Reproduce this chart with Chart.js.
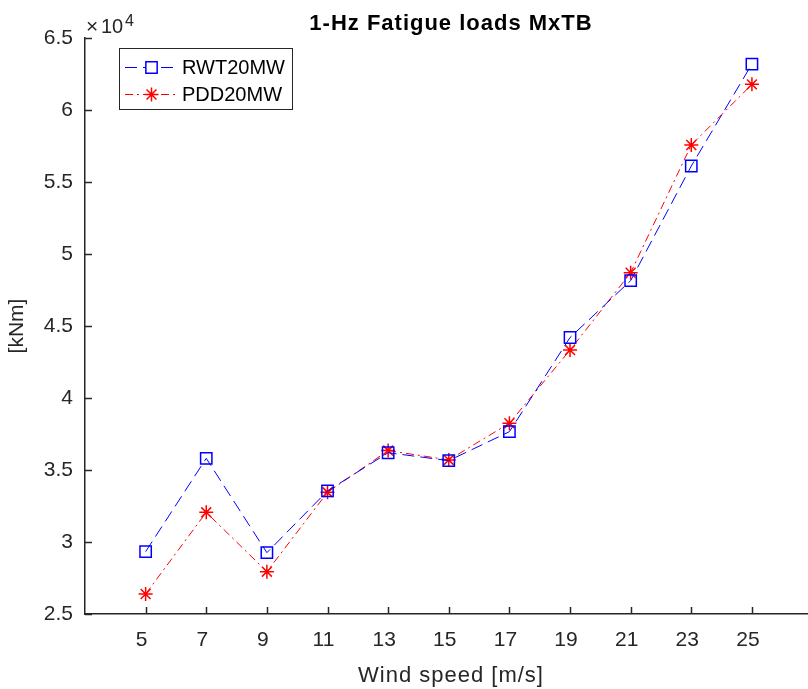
<!DOCTYPE html>
<html>
<head>
<meta charset="utf-8">
<script src="https://cdn.jsdelivr.net/npm/chart.js@4.4.0/dist/chart.umd.min.js"></script>
<style>
  html, body { margin: 0; padding: 0; background: #fff; }
</style>
</head>
<body>
<canvas id="canvasMx" width="808" height="689"></canvas>
<script>
// valeurs (kNm)
const windSpeed = [5, 7, 9, 11, 13, 15, 17, 19, 21, 23, 25];
const rwt20 = [29330, 35810, 29260, 33550, 36200, 35650, 37660, 44200, 48150, 56110, 63190];
const pdd20 = [26390, 32060, 27940, 33450, 36350, 35700, 38250, 43330, 48700, 57570, 61780];
const xTicks = [5, 7, 9, 11, 13, 15, 17, 19, 21, 23, 25];
const yTicks = [25000, 30000, 35000, 40000, 45000, 50000, 55000, 60000, 65000];

const txt = '#262626';
const fam = '"Liberation Sans", Arial, Helvetica, sans-serif';

// ticks vers l'intérieur, titres, x10^4 et légende façon MATLAB
const matlabStyle = {
  id: 'matlabStyle',
  afterDraw(chart) {
    const ctx = chart.ctx;
    const area = chart.chartArea;
    const xs = chart.scales.x;
    const ys = chart.scales.y;
    ctx.save();
    ctx.strokeStyle = txt;
    ctx.lineWidth = 1.5;
    ctx.setLineDash([]);
    xTicks.forEach(v => {
      const px = Math.round(xs.getPixelForValue(v)) + 0.5;
      ctx.beginPath();
      ctx.moveTo(px, area.bottom);
      ctx.lineTo(px, area.bottom - 7);
      ctx.stroke();
    });
    yTicks.forEach(v => {
      const py = Math.round(ys.getPixelForValue(v)) + 0.5;
      ctx.beginPath();
      ctx.moveTo(area.left, py);
      ctx.lineTo(area.left + 7, py);
      ctx.stroke();
    });

    // titre
    ctx.fillStyle = '#000';
    ctx.font = 'bold 22px ' + fam;
    ctx.letterSpacing = '1px';
    ctx.textAlign = 'center';
    ctx.textBaseline = 'alphabetic';
    ctx.fillText('1-Hz Fatigue loads MxTB', 451, 30);

    // titre axe x
    ctx.fillStyle = txt;
    ctx.font = '22px ' + fam;
    ctx.fillText('Wind speed [m/s]', 451, 682);
    ctx.letterSpacing = '0px';

    // x10^4
    ctx.textAlign = 'left';
    ctx.font = '21px ' + fam;
    ctx.fillText('\u00d7', 86, 33);
    ctx.font = '20px ' + fam;
    ctx.fillText('10', 101, 33);
    ctx.font = '16px ' + fam;
    ctx.fillText('4', 125, 26);

    // légende
    ctx.fillStyle = '#fff';
    ctx.fillRect(119.5, 48.5, 173, 61);
    ctx.strokeStyle = txt;
    ctx.lineWidth = 1;
    ctx.strokeRect(119.5, 48.5, 173, 61);
    const rows = [
      { ds: chart.data.datasets[0], y: 67 },
      { ds: chart.data.datasets[1], y: 94 }
    ];
    rows.forEach(r => {
      ctx.strokeStyle = r.ds.borderColor;
      ctx.lineWidth = 1;
      ctx.setLineDash(r.ds.borderDash);
      ctx.beginPath();
      ctx.moveTo(125, r.y + 0.5);
      ctx.lineTo(178, r.y + 0.5);
      ctx.stroke();
      ctx.setLineDash([]);
      ctx.lineWidth = r.ds.pointBorderWidth;
      Chart.helpers.drawPoint(ctx, {
        pointStyle: r.ds.pointStyle,
        radius: r.ds.pointRadius,
        borderWidth: r.ds.pointBorderWidth
      }, 151.5, r.y + 0.5);
      ctx.fillStyle = '#000';
      ctx.font = '20px ' + fam;
      ctx.textAlign = 'left';
      ctx.textBaseline = 'middle';
      ctx.fillText(r.ds.label, 182, r.y + 1);
    });
    ctx.restore();
  }
};

new Chart(document.getElementById('canvasMx'), {
  type: 'line',
  data: {
    datasets: [{
      label: 'RWT20MW',
      data: windSpeed.map((w, i) => ({ x: w, y: rwt20[i] })),
      borderColor: '#0000ff',
      borderWidth: 1,
      borderDash: [12, 6],
      pointStyle: 'rect',
      pointRadius: 8,
      pointBorderWidth: 1.5,
      pointBorderColor: '#0000ff',
      pointBackgroundColor: 'rgba(0,0,0,0)',
      fill: false,
      tension: 0
    }, {
      label: 'PDD20MW',
      data: windSpeed.map((w, i) => ({ x: w, y: pdd20[i] })),
      borderColor: '#ff0000',
      borderWidth: 1,
      borderDash: [8, 4, 2, 4],
      pointStyle: 'star',
      pointRadius: 7,
      pointBorderWidth: 1.5,
      pointBorderColor: '#ff0000',
      pointBackgroundColor: 'rgba(0,0,0,0)',
      fill: false,
      tension: 0
    }]
  },
  options: {
    responsive: false,
    animation: false,
    devicePixelRatio: 1,
    layout: { autoPadding: false, padding: { top: 38, left: 0, right: 0, bottom: 0 } },
    plugins: {
      legend: { display: false },
      title: { display: false },
      tooltip: { enabled: false }
    },
    scales: {
      x: {
        type: 'linear',
        min: 3,
        max: 26.85,
        afterBuildTicks: s => { s.ticks = xTicks.map(v => ({ value: v })); },
        afterFit: s => { s.height = 75; },
        grid: { display: false, drawTicks: false },
        border: { display: true, color: txt, width: 1.5 },
        ticks: { color: txt, font: { family: fam, size: 21 }, padding: 14, labelOffset: -4, maxRotation: 0 },
        title: { display: false }
      },
      y: {
        min: 25000,
        max: 65000,
        afterBuildTicks: s => { s.ticks = yTicks.map(v => ({ value: v })); },
        afterFit: s => { s.width = 85; },
        grid: { display: false, drawTicks: false },
        border: { display: true, color: txt, width: 1.5 },
        ticks: {
          color: txt,
          font: { family: fam, size: 21 },
          padding: 12,
          callback: v => String(v / 10000)
        },
        title: {
          display: true,
          text: '[kNm]',
          color: txt,
          font: { family: fam, size: 21 },
          padding: { top: 5, bottom: 0 }
        }
      }
    }
  },
  plugins: [matlabStyle]
});
</script>
</body>
</html>
